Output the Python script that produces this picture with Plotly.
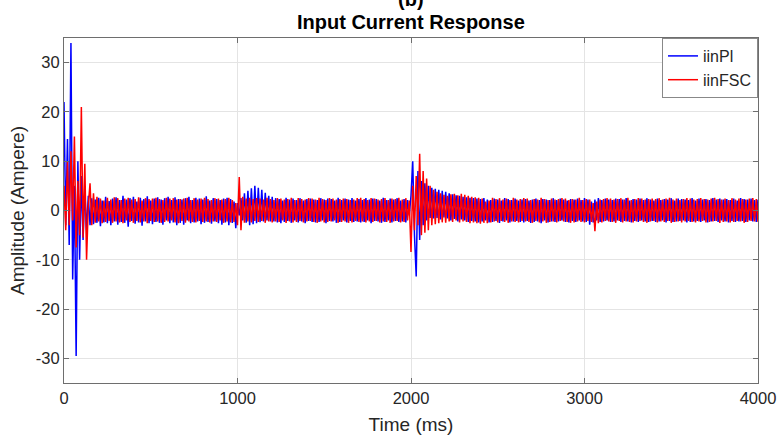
import plotly.graph_objects as go

# ---------------- data ----------------
STEP_MS = 10  # sampling step of the traced values, ms (one value per half cycle of the 50 Hz ripple)

iin_pi = [
    22, -3, 14.5, -7, 34, -14, 5, -29.5, 10, -10, 7, -6, 4, -4, 3, -3, 2.5, -2.8, 2.2, -2.5,
    2.6, -3.2, 2.0, -2.4, 2.8, -2.6, 1.9, -3.0, 2.4, -2.2, 2.7, -2.9, 2.1, -2.3, 3.0, -2.5, 2.2, -3.3, 2.5, -2.1,
    2.8, -2.7, 1.8, -2.4, 2.6, -3.1, 2.3, -2.2, 2.9, -2.6, 2.0, -2.8, 2.4, -2.3, 2.7, -2.5, 2.2, -2.9, 2.5, -2.0,
    2.8, -2.6, 2.1, -2.4, 2.7, -3.0, 2.3, -2.5, 2.2, -2.9, 2.5, -2.0, 2.8, -2.6, 2.1, -2.4, 2.6, -2.2, 2.4, -2.8,
    2.2, -2.5, 2.9, -2.3, 2.0, -2.7, 2.5, -2.2, 2.3, -2.6, 2.1, -2.9, 2.4, -2.4, 2.6, -3.0, 2.3, -2.5, 1.8, -3.6,
    1.5, -1.0, 2.5, -2.0, 3.5, -2.5, 4.0, -3.0, 4.5, -2.8, 5.0, -2.6, 4.6, -2.4, 4.2, -2.2, 3.6, -2.0, 3.0, -2.2,
    2.8, -2.2, 2.5, -2.4, 2.3, -2.6, 2.0, -2.3, 2.6, -2.1, 2.2, -2.5, 2.4, -2.0, 2.1, -2.4, 2.5, -2.2, 2.0, -2.6,
    2.3, -2.1, 2.4, -2.3, 2.2, -2.4, 2.1, -2.3, 2.5, -2.0, 2.2, -2.6, 2.4, -2.1, 2.3, -2.2, 2.0, -2.5, 2.6, -2.3,
    2.1, -2.0, 2.4, -2.4, 2.2, -2.1, 2.5, -2.3, 2.0, -2.2, 2.3, -2.4, 2.1, -2.3, 2.5, -2.0, 2.2, -2.6, 2.4, -2.1,
    2.3, -2.2, 2.0, -2.5, 2.6, -2.3, 2.1, -2.0, 2.4, -2.4, 2.2, -2.1, 2.5, -2.3, 2.0, -2.2, 2.3, -2.4, 2.1, -1.0,
    3.0, 10.0, -5.0, -13.4, 8.0, -6.0, 6.0, -3.0, 5.5, -2.0, 5.0, -1.5, 4.6, -1.6, 4.4, -1.5, 4.2, -1.8, 4.0, -1.4,
    3.8, -1.6, 3.5, -2.0, 3.3, -1.7, 3.1, -2.2, 3.0, -1.8, 2.8, -2.0, 2.7, -2.3, 2.6, -2.1, 2.5, -2.2, 2.4, -2.4,
    2.3, -2.2, 2.5, -2.0, 2.2, -2.4, 2.1, -2.3, 2.4, -2.1, 2.2, -2.5, 2.0, -2.2, 2.5, -2.0, 2.3, -2.4, 2.1, -2.2,
    2.4, -2.1, 2.0, -2.3, 2.2, -2.4, 2.3, -2.1, 2.0, -2.5, 2.2, -2.3, 2.4, -2.2, 2.1, -2.6, 2.3, -2.0, 2.2, -2.4,
    2.1, -2.2, 2.5, -2.3, 2.1, -2.2, 2.4, -2.0, 2.2, -2.3, 2.0, -2.4, 2.3, -2.1, 2.2, -2.3, 2.4, -2.0, 2.1, -2.2,
    2.5, -2.3, 2.2, -2.9, 1.8, -2.4, 2.2, -2.0, 2.5, -2.3, 2.1, -2.2, 2.4, -2.0, 2.2, -2.3, 2.1, -2.2, 2.4, -2.0,
    2.3, -2.3, 2.2, -2.1, 2.5, -2.2, 2.0, -2.4, 2.3, -2.1, 2.2, -2.3, 2.4, -2.0, 2.1, -2.2, 2.5, -2.3, 2.2, -2.1,
    2.0, -2.3, 2.4, -2.2, 2.1, -2.0, 2.3, -2.4, 2.2, -2.1, 2.5, -2.3, 2.0, -2.2, 2.4, -2.1, 2.3, -2.0, 2.2, -2.4,
    2.1, -2.3, 2.5, -2.2, 2.0, -2.1, 2.4, -2.3, 2.2, -2.0, 2.3, -2.4, 2.1, -2.2, 2.5, -2.1, 2.2, -2.3, 2.4, -2.0,
    2.2, -2.2, 2.3, -2.4, 2.1, -2.1, 2.4, -2.3, 2.0, -2.2, 2.5, -2.1, 2.3, -2.3, 2.2, -2.0, 2.4, -2.2, 2.1, -2.3,
    2.2,
]

iin_fsc = [
    5, -4, 10, -3, 12, -2, 15, -7.5, 6, -5, 21, -5.5, 9.5, -10, 1, 5.5, -3, 3.5, -2.5, 2.8,
    -2.2, 2.4, -2.6, 2.0, -2.3, 2.6, -2.1, 2.2, -2.5, 2.7, -2.2, 2.5, -2.4, 2.1, -2.6, 2.4, -2.0, 2.6, -2.3, 2.2,
    -2.5, 2.3, -2.1, 2.7, -2.4, 2.0, -2.2, 2.5, -2.6, 2.3, -2.1, 2.4, -2.3, 2.6, -2.2, 2.3, -2.5, 2.1, -2.3, 2.6,
    -2.2, 2.4, -2.0, 2.5, -2.4, 2.2, -2.6, 2.3, -2.1, 2.4, -2.5, 2.6, -2.2, 2.1, -2.3, 2.5, -2.4, 2.2, -2.1, 2.4,
    -2.3, 2.6, -2.2, 2.3, -2.4, 2.1, -2.2, 2.5, -2.3, 2.4, -2.0, 2.2, -2.5, 2.3, -2.2, 2.6, -2.4, 2.1, -2.3, 1.5,
    -3.0, 6.8, -4.0, 2.8, -2.5, 2.4, -2.2, 2.6, -2.4, 2.3, -2.1, 2.5, -2.3, 2.4, -2.1, 2.2, -2.5, 2.6, -2.2, 2.3,
    -2.4, 2.1, -2.2, 2.5, -2.3, 2.4, -2.0, 2.2, -2.5, 2.3, -2.2, 2.6, -2.4, 2.1, -2.3, 2.5, -2.1, 2.3, -2.4, 2.2,
    -2.2, 2.5, -2.1, 2.4, -2.3, 2.2, -2.5, 2.6, -2.2, 2.3, -2.4, 2.1, -2.3, 2.5, -2.2, 2.4, -2.0, 2.2, -2.5, 2.3,
    -2.3, 2.4, -2.2, 2.3, -2.5, 2.1, -2.4, 2.2, -2.1, 2.5, -2.3, 2.6, -2.2, 2.3, -2.4, 2.1, -2.2, 2.5, -2.3, 2.4,
    -2.1, 2.2, -2.4, 2.3, -2.2, 2.5, -2.3, 2.1, -2.5, 2.4, -2.2, 2.3, -2.1, 2.6, -2.4, 2.2, -2.3, 2.5, -2.0, 2.0,
    -8.4, 5.0, -4.0, 7.0, -3.0, 11.5, -5.0, 8.0, -4.5, 6.5, -4.0, 5.0, -3.0, 4.2, -2.8, 3.8, -2.6, 3.5, -2.4, 3.2,
    -2.5, 3.0, -2.2, 3.3, -2.3, 3.4, -2.0, 3.1, -2.4, 3.4, -2.2, 3.2, -2.3, 3.0, -2.6, 2.8, -2.4, 2.7, -2.6, 2.6,
    -2.7, 2.4, -2.5, 1.8, -2.6, 2.0, -2.4, 2.6, -2.2, 2.3, -2.4, 2.5, -2.1, 2.2, -2.3, 2.4, -2.5, 2.1, -2.2, 2.6,
    -2.3, 2.2, -2.4, 2.3, -2.1, 2.5, -2.2, 2.4, -2.3, 2.1, -2.5, 2.3, -2.1, 2.2, -2.4, 2.6, -2.2, 2.3, -2.5, 2.1,
    -2.3, 2.4, -2.2, 2.2, -2.4, 2.3, -2.1, 2.5, -2.2, 2.4, -2.3, 2.1, -2.5, 2.3, -2.4, 2.2, -2.2, 2.6, -2.3, 2.1,
    -2.4, 2.3, -2.1, 2.2, -2.3, 1.5, -4.2, 1.8, -2.6, 2.2, -2.4, 2.3, -2.1, 2.5, -2.2, 2.4, -2.3, 2.2, -2.5, 2.3,
    -2.1, 2.5, -2.4, 2.2, -2.2, 2.6, -2.3, 2.1, -2.4, 2.3, -2.2, 2.5, -2.1, 2.4, -2.3, 2.2, -2.5, 2.3, -2.2, 2.4,
    -2.1, 2.3, -2.4, 2.5, -2.2, 2.2, -2.3, 2.4, -2.1, 2.6, -2.5, 2.2, -2.3, 2.4, -2.2, 2.1, -2.4, 2.3, -2.2, 2.5,
    -2.1, 2.4, -2.3, 2.2, -2.4, 2.3, -2.2, 2.5, -2.1, 2.3, -2.4, 2.2, -2.3, 2.4, -2.2, 2.6, -2.1, 2.3, -2.5, 2.2,
    -2.3, 2.4, -2.2, 2.1, -2.4, 2.5, -2.3, 2.2, -2.1, 2.4, -2.2, 2.3, -2.5, 2.2, -2.3, 2.4, -2.1, 2.5, -2.2, 2.3,
    -2.3,
]

time_pi = [STEP_MS * i for i in range(len(iin_pi))]
time_fsc = [STEP_MS * i for i in range(len(iin_fsc))]

x_ticks = [0, 1000, 2000, 3000, 4000]
x_tick_labels = ["0", "1000", "2000", "3000", "4000"]
y_ticks = [-30, -20, -10, 0, 10, 20, 30]
y_tick_labels = ["-30", "-20", "-10", "0", "10", "20", "30"]

# ---------------- figure ----------------
FONT = "Liberation Sans, Arial, sans-serif"
TXT = "#262626"
AX = "#6e6e6e"

fig = go.Figure()
fig.add_trace(go.Scatter(x=time_pi, y=iin_pi, mode="lines", name="iinPl",
                         line=dict(color="#0000ff", width=1.5)))
fig.add_trace(go.Scatter(x=time_fsc, y=iin_fsc, mode="lines", name="iinFSC",
                         line=dict(color="#ff0000", width=1.5)))

axis_common = dict(
    showline=True, linecolor=AX, linewidth=1, mirror="ticks",
    ticks="inside", ticklen=5, tickcolor=AX,
    showgrid=True, gridcolor="#e4e4e4", gridwidth=1,
    zeroline=False, automargin=False,
    tickfont=dict(family=FONT, size=16.5, color=TXT),
)

fig.update_layout(
    width=778, height=439,
    margin=dict(l=64, r=20, t=38, b=56),
    paper_bgcolor="white", plot_bgcolor="white",
    showlegend=True,
    legend=dict(x=1, y=1, xanchor="right", yanchor="top",
                bgcolor="white", bordercolor="#888888", borderwidth=1,
                font=dict(family=FONT, size=16, color=TXT),
                itemwidth=30, tracegroupgap=0),
    xaxis=dict(axis_common, range=[0, 4000], tickvals=x_ticks, ticktext=x_tick_labels,
               title=dict(text="Time (ms)", font=dict(family=FONT, size=19, color=TXT), standoff=11)),
    yaxis=dict(axis_common, range=[-35, 35], tickvals=y_ticks, ticktext=y_tick_labels,
               title=dict(text="Amplitude (Ampere)", font=dict(family=FONT, size=19, color=TXT), standoff=6)),
    annotations=[
        dict(text="<b>Input Current Response</b>", xref="paper", yref="paper",
             x=0.5, y=1.046, xanchor="center", yanchor="middle", showarrow=False,
             font=dict(family=FONT, size=20, color="#000000")),
        dict(text="<b>(b)</b>", xref="paper", yref="paper",
             x=0.5, y=1.074, xanchor="center", yanchor="bottom", showarrow=False,
             font=dict(family=FONT, size=20, color="#000000")),
    ],
)

# remove the browser's default 8 px body margin so the figure fills the window exactly
fig.write_html("out.html", config={"displayModeBar": False},
               post_script="document.body.style.margin='0';")
